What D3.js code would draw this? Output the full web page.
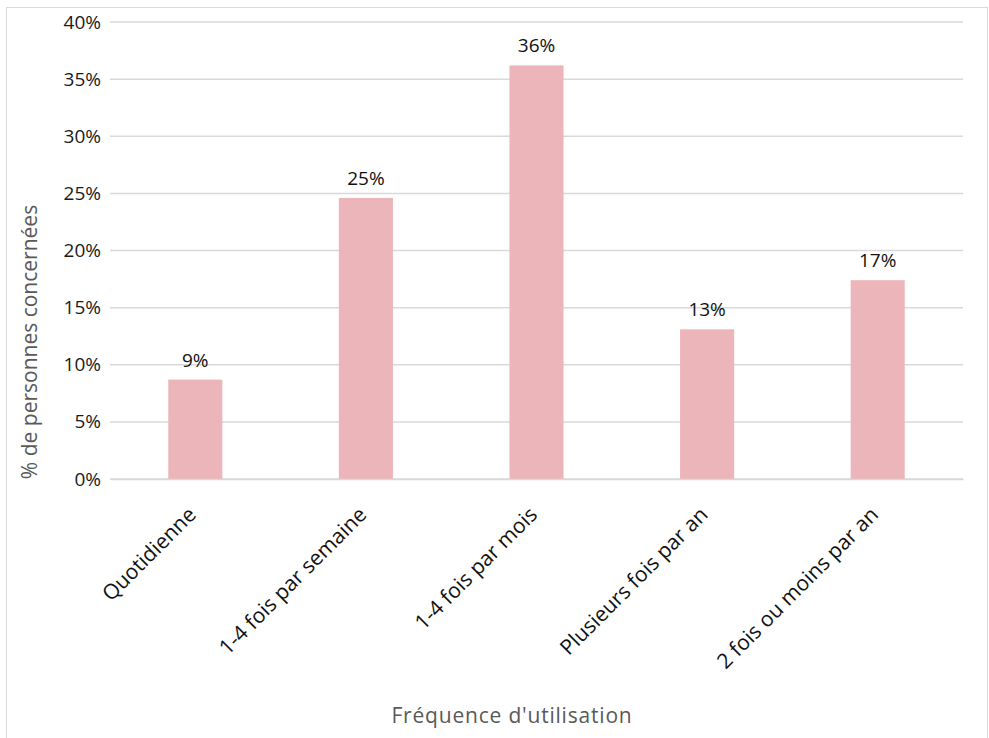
<!DOCTYPE html>
<html><head><meta charset="utf-8">
<script src="https://cdn.jsdelivr.net/npm/d3@7"></script>
<style>
html,body{margin:0;padding:0;background:#fff;}
svg{display:block;font-family:"Open Sans", sans-serif;}
</style></head>
<body>
<svg id="chart" width="989" height="738"></svg>
<script>
const categories = ["Quotidienne", "1-4 fois par semaine", "1-4 fois par mois", "Plusieurs fois par an", "2 fois ou moins par an"];
const values = [8.7, 24.6, 36.2, 13.1, 17.4];
const yTicks = [0, 5, 10, 15, 20, 25, 30, 35, 40];
const yTitle = "% de personnes concernées";
const xTitle = "Fréquence d'utilisation";

const svg = d3.select("#chart");
const W = 989, H = 738;
const m = {left:110, right:26, top:22, bottom:259};
const iw = W - m.left - m.right, ih = H - m.top - m.bottom;
const FONT = "'Open Sans', sans-serif";

// chart border
svg.append("rect").attr("x", 6.5).attr("y", 7.5).attr("width", 981).attr("height", 740)
  .attr("fill", "none").attr("stroke", "#d9d9d9").attr("stroke-width", 1);

const g = svg.append("g").attr("transform", `translate(${m.left},${m.top})`);
const x = d3.scaleBand().domain(categories).range([0, iw]).paddingInner(0.683).paddingOuter(0.3415);
const y = d3.scaleLinear().domain([0, 40]).range([ih, 0]);

// gridlines
g.append("g").selectAll("line").data(yTicks).join("line")
  .attr("x1", 0).attr("x2", iw).attr("y1", d => y(d)).attr("y2", d => y(d))
  .attr("stroke", "#d9d9d9").attr("stroke-width", 1.5);

// y axis labels
const yAxis = g.append("g").call(d3.axisLeft(y).tickValues(yTicks).tickFormat(d => d + "%").tickSize(0).tickPadding(9));
yAxis.select(".domain").remove();
yAxis.selectAll("text").attr("font-size", 19).attr("fill", "#1a1a1a").attr("font-family", FONT);

// bars
g.append("g").selectAll("rect").data(values).join("rect")
  .attr("x", (d, i) => x(categories[i])).attr("width", x.bandwidth())
  .attr("y", d => y(d)).attr("height", d => ih - y(d))
  .attr("fill", "#ecb5b9");

// data labels
g.append("g").selectAll("text").data(values).join("text")
  .attr("x", (d, i) => x(categories[i]) + x.bandwidth() / 2)
  .attr("y", d => y(d) - 13)
  .attr("text-anchor", "middle").attr("font-size", 19).attr("fill", "#111")
  .attr("font-family", FONT)
  .text(d => Math.round(d) + "%");

// x axis labels
const xAxis = g.append("g").attr("transform", `translate(0,${ih})`)
  .call(d3.axisBottom(x).tickSize(0).tickPadding(0));
xAxis.select(".domain").attr("stroke", "#d9d9d9").attr("stroke-width", 1.5);
xAxis.selectAll("text")
  .attr("font-size", 21).attr("fill", "#111").attr("font-family", FONT)
  .attr("text-anchor", "end").attr("dy", null).attr("y", 0)
  .attr("transform", "translate(2,37) rotate(-45)");

// axis titles
svg.append("text").attr("transform", `translate(37,342) rotate(-90)`)
  .attr("text-anchor", "middle").attr("font-size", 21).attr("fill", "#595959")
  .attr("font-family", FONT)
  .text(yTitle);
svg.append("text").attr("x", 512).attr("y", 723)
  .attr("text-anchor", "middle").attr("font-size", 21).attr("fill", "#595959")
  .attr("font-family", FONT).attr("letter-spacing", 0.8)
  .text(xTitle);
</script>
</body></html>
